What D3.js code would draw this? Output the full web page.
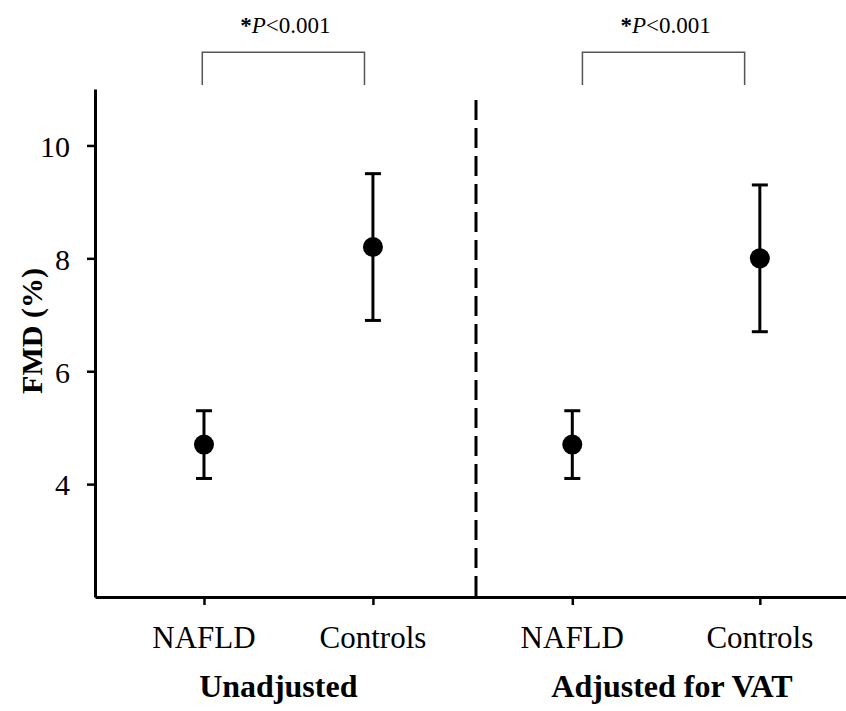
<!DOCTYPE html>
<html>
<head>
<meta charset="utf-8">
<script src="https://cdn.jsdelivr.net/npm/d3@7"></script>
<style>
    body { margin: 0; background: #ffffff; }
    #chart-area { width: 846px; height: 711px; }
    text { font-family: "Liberation Serif", "Times New Roman", serif; fill: #000; }
</style>
</head>
<body>
<div id="chart-area"></div>
<script>
// chart values
const categories = ["NAFLD", "Controls", "NAFLD", "Controls"];
const categoryPos = [1, 2, 3.18, 4.29];          // x units
const means = [4.7, 8.2, 4.7, 8.0];
const upper = [5.3, 9.5, 5.3, 9.3];
const lower = [4.1, 6.9, 4.1, 6.7];

const groups = ["Unadjusted", "Adjusted for VAT"];
const groupPos = [1.44, 3.77];
const separatorPos = 2.61;

const pLabels = ["P<0.001", "P<0.001"];
const bracketSpans = [[0.99, 1.95], [3.24, 4.2]];

const yTicks = [4, 6, 8, 10];

class FmdChart {

    constructor(parentElement) {
        this.parentElement = parentElement;
        this.initVis();
    }

    initVis() {
        let vis = this;

        vis.width = 846;
        vis.height = 711;

        vis.svg = d3.select("#" + vis.parentElement)
            .append("svg")
            .attr("width", vis.width)
            .attr("height", vis.height);

        // plot box is left 95 .. right edge, top 89 .. bottom 597
        vis.x = d3.scaleLinear().domain([0.355, 4.8]).range([95, 846]);
        vis.y = d3.scaleLinear().domain([2, 11]).range([597, 89]);

        vis.data = categories.map((c, i) => ({
            name: c, pos: categoryPos[i], mean: means[i], hi: upper[i], lo: lower[i]
        }));

        vis.updateVis();
    }

    updateVis() {
        let vis = this;

        // y axis
        let yAxis = d3.axisLeft(vis.y)
            .tickValues(yTicks)
            .tickSize(8)
            .tickPadding(17)
            .tickSizeOuter(0);

        let yG = vis.svg.append("g")
            .attr("transform", `translate(${vis.x.range()[0]},0)`)
            .call(yAxis);
        yG.select(".domain").attr("stroke", "#000").attr("stroke-width", 3);
        yG.selectAll(".tick line").attr("stroke", "#000").attr("stroke-width", 2.5);
        yG.selectAll(".tick text")
            .attr("font-family", "Liberation Serif, Times New Roman, serif")
            .style("font-size", "30px")
            .attr("dy", "0.36em");

        // x axis
        let xAxis = d3.axisBottom(vis.x)
            .tickValues(categoryPos)
            .tickSize(8)
            .tickSizeOuter(0)
            .tickFormat("");

        let xG = vis.svg.append("g")
            .attr("transform", `translate(0,${vis.y.range()[0]})`)
            .call(xAxis);
        xG.select(".domain").attr("stroke", "#000").attr("stroke-width", 3);
        xG.selectAll(".tick line").attr("stroke", "#000").attr("stroke-width", 2.5);

        vis.svg.selectAll(".cat-label")
            .data(vis.data)
            .enter()
            .append("text")
            .attr("class", "cat-label")
            .attr("x", d => vis.x(d.pos))
            .attr("y", 648)
            .attr("text-anchor", "middle")
            .style("font-size", "31px")
            .text(d => d.name);

        vis.svg.selectAll(".group-label")
            .data(groups)
            .enter()
            .append("text")
            .attr("class", "group-label")
            .attr("x", (d, i) => vis.x(groupPos[i]))
            .attr("y", 697)
            .attr("text-anchor", "middle")
            .style("font-size", "32px")
            .style("font-weight", "bold")
            .text(d => d);

        // y label
        vis.svg.append("text")
            .attr("transform", "translate(42,331) rotate(-90)")
            .attr("text-anchor", "middle")
            .style("font-size", "30px")
            .style("font-weight", "bold")
            .text("FMD (%)");

        // dashed separator
        vis.svg.append("line")
            .attr("x1", vis.x(separatorPos))
            .attr("x2", vis.x(separatorPos))
            .attr("y1", 100)
            .attr("y2", vis.y.range()[0])
            .attr("stroke", "#000")
            .attr("stroke-width", 3)
            .attr("stroke-dasharray", "20,8");

        // error bars
        let bars = vis.svg.selectAll(".err")
            .data(vis.data)
            .enter()
            .append("g")
            .attr("class", "err")
            .attr("stroke", "#000")
            .attr("stroke-width", 3);

        bars.append("line")
            .attr("x1", d => vis.x(d.pos))
            .attr("x2", d => vis.x(d.pos))
            .attr("y1", d => vis.y(d.hi))
            .attr("y2", d => vis.y(d.lo));

        bars.append("line")
            .attr("x1", d => vis.x(d.pos) - 8)
            .attr("x2", d => vis.x(d.pos) + 8)
            .attr("y1", d => vis.y(d.hi))
            .attr("y2", d => vis.y(d.hi));

        bars.append("line")
            .attr("x1", d => vis.x(d.pos) - 8)
            .attr("x2", d => vis.x(d.pos) + 8)
            .attr("y1", d => vis.y(d.lo))
            .attr("y2", d => vis.y(d.lo));

        vis.svg.selectAll(".dot")
            .data(vis.data)
            .enter()
            .append("circle")
            .attr("class", "dot")
            .attr("cx", d => vis.x(d.pos))
            .attr("cy", d => vis.y(d.mean))
            .attr("r", 10)
            .attr("fill", "#000");

        // significance brackets
        let brackets = vis.svg.selectAll(".bracket")
            .data(bracketSpans)
            .enter()
            .append("g")
            .attr("class", "bracket");

        brackets.append("path")
            .attr("d", d => {
                let x0 = vis.x(d[0]), x1 = vis.x(d[1]);
                let yTop = vis.y(11.65), yBot = vis.y(11.07);
                return `M${x0},${yBot}V${yTop}H${x1}V${yBot}`;
            })
            .attr("fill", "none")
            .attr("stroke", "#555")
            .attr("stroke-width", 1.5);

        let pText = brackets.append("text")
            .attr("x", d => (vis.x(d[0]) + vis.x(d[1])) / 2 + 2)
            .attr("y", vis.y(12.0))
            .attr("text-anchor", "middle")
            .style("font-size", "23px");

        pText.append("tspan").style("font-weight", "bold").text("*");
        pText.append("tspan").style("font-style", "italic").text("P");
        pText.append("tspan").text((d, i) => pLabels[i].slice(1));
    }
}

new FmdChart("chart-area");
</script>
</body>
</html>
